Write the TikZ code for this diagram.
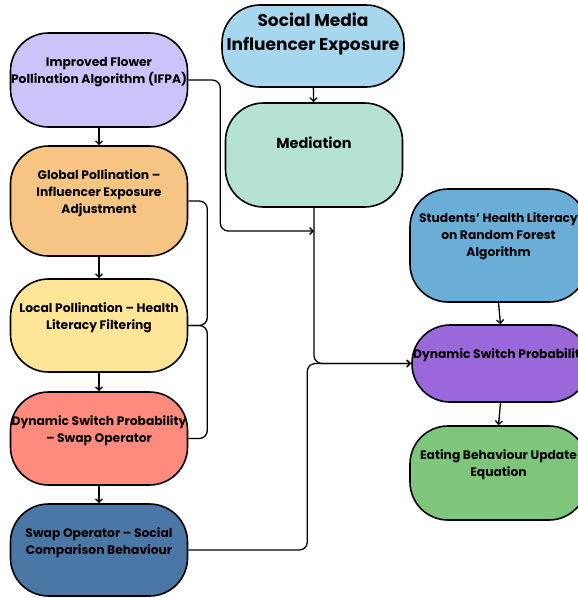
\documentclass[tikz,border=0pt]{standalone}
\usepackage{fontspec}
\setmainfont{Poppins}
\usetikzlibrary{arrows.meta,positioning}

\definecolor{cIfpa}{HTML}{CDC3FA}
\definecolor{cGlob}{HTML}{F6C583}
\definecolor{cLoc}{HTML}{FFE598}
\definecolor{cDsw}{HTML}{FF8A7D}
\definecolor{cSwp}{HTML}{4B77A7}
\definecolor{cSoc}{HTML}{A7D7EF}
\definecolor{cMed}{HTML}{B5E2D3}
\definecolor{cStu}{HTML}{6AADD6}
\definecolor{cPur}{HTML}{9A68DB}
\definecolor{cEat}{HTML}{7DC67C}

\tikzset{
 blk/.style={draw,line width=1.6pt,rounded corners=38pt,minimum width=177pt,inner sep=0pt},
 lbl/.style={align=center,inner sep=0pt,font=\bfseries\fontsize{12.3}{17}\selectfont},
 conn/.style={line width=1.3pt,rounded corners=8pt}
}

\begin{document}
\begin{tikzpicture}[x=1pt,y=-1pt,>={Straight Barb[length=3.5pt,width=7pt]}]
\useasboundingbox[fill=white] (0,0) rectangle (578,598);
% left column
\node[blk,fill=cIfpa,minimum height=94pt] (ifpa) at (99,80) {};
\node[lbl] (ifpaT) at (99,72) {Improved Flower\\Pollination Algorithm (IFPA)};
\node[blk,fill=cGlob,minimum height=110pt] (glob) at (99,201) {};
\node[lbl] (globT) at (99,193) {Global Pollination --\\Influencer Exposure\\Adjustment};
\node[blk,fill=cLoc,minimum height=93pt] (loc) at (99,325.5) {};
\node[lbl] (locT) at (99,317.5) {Local Pollination -- Health\\Literacy Filtering};
\node[blk,fill=cDsw,minimum height=93pt] (dsw) at (99,438.5) {};
\node[lbl] (dswT) at (99,430.5) {Dynamic Switch Probability\\-- Swap Operator};
\node[blk,fill=cSwp,minimum height=92pt] (swp) at (99,550) {};
\node[lbl] (swpT) at (99,542.5) {Swap Operator -- Social\\Comparison Behaviour};
% centre column
\node[blk,fill=cSoc,minimum width=182pt,minimum height=82pt] (soc) at (313,46) {};
\node[lbl,font=\bfseries\fontsize{17}{24}\selectfont] (socT) at (313,34) {Social Media\\Influencer Exposure};
\node[blk,fill=cMed,minimum height=104pt] (med) at (314,155) {};
\node[lbl,font=\bfseries\fontsize{14.5}{17}\selectfont] (medT) at (314,143) {Mediation};
% right column
\node[blk,fill=cStu,minimum height=113pt] (stu) at (498.5,245.5) {};
\node[lbl] (stuT) at (498.5,236.5) {Students’ Health Literacy\\on Random Forest\\Algorithm};
\node[blk,fill=cPur,minimum height=77pt] (pur) at (500.5,363.5) {};
\node[lbl] (purT) at (500.5,355) {Dynamic Switch Probability};
\node[blk,fill=cEat,minimum height=94pt] (eat) at (498.5,473) {};
\node[lbl] (eatT) at (498.5,464.5) {Eating Behaviour Update\\Equation};

\coordinate (medjoin) at (314,231);

% vertical links
\foreach \a/\b in {ifpa/glob,glob/loc,loc/dsw,dsw/swp,soc/med}
 \draw[conn,->] (\a) -- (\b);
\draw[conn,->] (stu.south) -- (pur.north);
\draw[conn,->] (pur.south) -- (eat.north);

% feeds into the right
\draw[conn,->] (ifpa.east) -- ++(32,0) |- (medjoin);
\draw[conn,->] (med.south) |- (pur.west);
\draw[conn,->] (swp.east) -- ++(119,0) |- (pur.west);

% bracket on local pollination
\draw[conn] (glob.east) -- ++(19,0) |- (loc.east);
\draw[conn] (dsw.east) -- ++(19,0) |- (loc.east);
\end{tikzpicture}
\end{document}
